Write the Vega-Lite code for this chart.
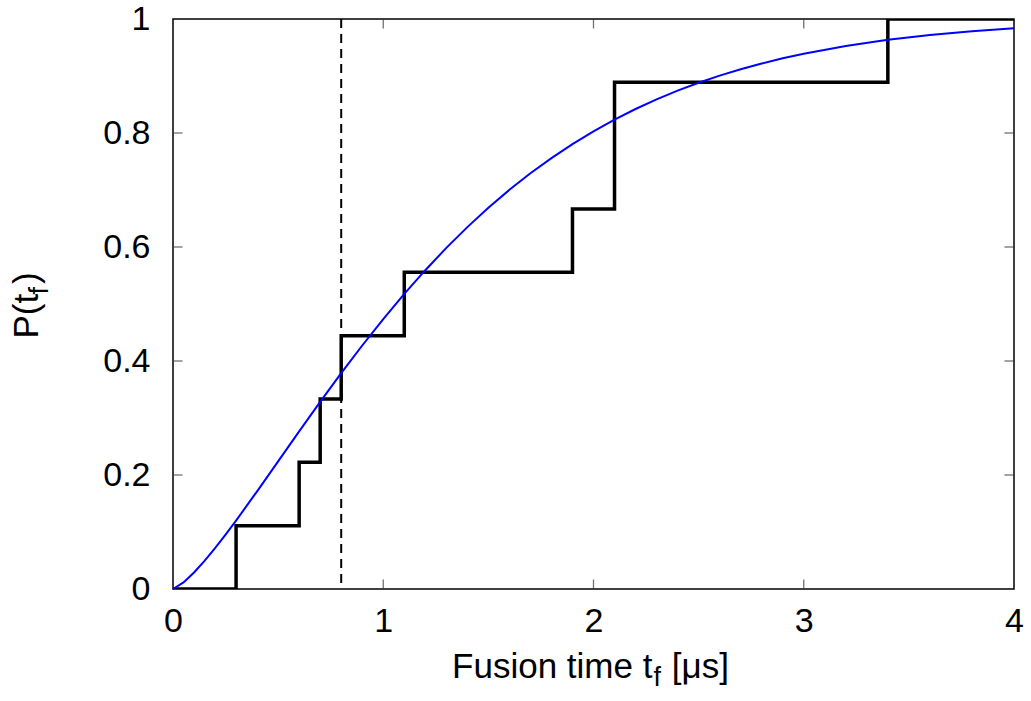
{
  "$schema": "https://vega.github.io/schema/vega-lite/v6.json",
  "width": 841,
  "height": 570,
  "autosize": {"type": "none"},
  "padding": {"left": 173, "top": 19, "right": 17, "bottom": 112},
  "background": "white",
  "config": {
    "view": {"stroke": "black", "strokeWidth": 1.5},
    "font": "Liberation Sans",
    "axis": {"grid": false, "domain": false, "labelFont": "Liberation Sans", "titleFont": "Liberation Sans", "labelColor": "black", "titleColor": "black", "titleFontWeight": "normal", "labelFlush": false}
  },
  "datasets": {
    "steps": [
      {"t": 0, "p": 0},
      {"t": 0.3, "p": 0.1111},
      {"t": 0.6, "p": 0.2222},
      {"t": 0.7, "p": 0.3333},
      {"t": 0.8, "p": 0.4444},
      {"t": 1.1, "p": 0.5556},
      {"t": 1.9, "p": 0.6667},
      {"t": 2.1, "p": 0.8889},
      {"t": 3.4, "p": 1},
      {"t": 4, "p": 1}
    ],
    "mark": [{"t": 0.8}],
    "xticks": [
      {"t": 1, "p": 0}, {"t": 2, "p": 0}, {"t": 3, "p": 0},
      {"t": 1, "p": 1}, {"t": 2, "p": 1}, {"t": 3, "p": 1}
    ],
    "yticks": [
      {"t": 0, "p": 0.2}, {"t": 0, "p": 0.4}, {"t": 0, "p": 0.6}, {"t": 0, "p": 0.8},
      {"t": 4, "p": 0.2}, {"t": 4, "p": 0.4}, {"t": 4, "p": 0.6}, {"t": 4, "p": 0.8}
    ],
    "fit": [
      {"t": 0, "p": 0},
      {"t": 0.05, "p": 0.0115},
      {"t": 0.1, "p": 0.0289},
      {"t": 0.15, "p": 0.0493},
      {"t": 0.2, "p": 0.0716},
      {"t": 0.25, "p": 0.0953},
      {"t": 0.3, "p": 0.12},
      {"t": 0.4, "p": 0.1714},
      {"t": 0.5, "p": 0.2239},
      {"t": 0.6, "p": 0.2765},
      {"t": 0.7, "p": 0.3283},
      {"t": 0.8, "p": 0.3787},
      {"t": 0.9, "p": 0.4272},
      {"t": 1.0, "p": 0.4736},
      {"t": 1.1, "p": 0.5177},
      {"t": 1.2, "p": 0.5593},
      {"t": 1.3, "p": 0.5984},
      {"t": 1.4, "p": 0.6349},
      {"t": 1.5, "p": 0.6688},
      {"t": 1.6, "p": 0.7003},
      {"t": 1.7, "p": 0.7293},
      {"t": 1.8, "p": 0.756},
      {"t": 1.9, "p": 0.7806},
      {"t": 2.0, "p": 0.803},
      {"t": 2.1, "p": 0.8235},
      {"t": 2.2, "p": 0.8421},
      {"t": 2.3, "p": 0.859},
      {"t": 2.4, "p": 0.8744},
      {"t": 2.5, "p": 0.8882},
      {"t": 2.6, "p": 0.9007},
      {"t": 2.7, "p": 0.9119},
      {"t": 2.8, "p": 0.9219},
      {"t": 2.9, "p": 0.931},
      {"t": 3.0, "p": 0.939},
      {"t": 3.2, "p": 0.9526},
      {"t": 3.4, "p": 0.9634},
      {"t": 3.6, "p": 0.9719},
      {"t": 3.8, "p": 0.9785},
      {"t": 4.0, "p": 0.9836}
    ]
  },
  "layer": [
    {
      "data": {"name": "xticks"},
      "mark": {"type": "tick", "orient": "vertical", "color": "#333333", "size": 19, "thickness": 1.3, "clip": true},
      "encoding": {
        "x": {"field": "t", "type": "quantitative", "scale": {"domain": [0, 4], "nice": false, "zero": false}, "axis": null},
        "y": {"field": "p", "type": "quantitative", "scale": {"domain": [0, 1], "nice": false}, "axis": null}
      }
    },
    {
      "data": {"name": "yticks"},
      "mark": {"type": "tick", "orient": "horizontal", "color": "#333333", "size": 19, "thickness": 1.3, "clip": true},
      "encoding": {
        "x": {"field": "t", "type": "quantitative", "axis": null},
        "y": {"field": "p", "type": "quantitative", "axis": null}
      }
    },
    {
      "data": {"name": "steps"},
      "mark": {"type": "line", "interpolate": "step-after", "color": "black", "strokeWidth": 3.5, "clip": true},
      "encoding": {
        "x": {"field": "t", "type": "quantitative", "axis": null},
        "y": {"field": "p", "type": "quantitative", "axis": null}
      }
    },
    {
      "data": {"name": "mark"},
      "mark": {"type": "rule", "color": "black", "strokeWidth": 2, "strokeDash": [9, 6]},
      "encoding": {
        "x": {"field": "t", "type": "quantitative",
              "axis": {"orient": "bottom", "labels": false, "ticks": false, "values": [0, 1, 2, 3, 4],
                       "title": "f", "titleFontSize": 27, "titleAlign": "left", "titleBaseline": "alphabetic", "titleX": 480, "titleY": 96, "titleAngle": 0}}
      }
    },
    {
      "data": {"name": "mark"},
      "mark": {"type": "rule", "opacity": 0},
      "encoding": {
        "y": {"datum": 0.5, "type": "quantitative",
              "axis": {"orient": "left", "labels": false, "ticks": false, "values": [0, 0.2, 0.4, 0.6, 0.8, 1],
                       "title": "f", "titleFontSize": 27, "titleAlign": "left", "titleBaseline": "alphabetic", "titleX": -126, "titleY": 275, "titleAngle": -90}}
      }
    },
    {
      "data": {"name": "fit"},
      "mark": {"type": "line", "color": "#0000ff", "strokeWidth": 2},
      "encoding": {
        "x": {"field": "t", "type": "quantitative",
              "axis": {"orient": "bottom", "ticks": false, "labelPadding": 15, "labelFontSize": 34, "values": [0, 1, 2, 3, 4], "format": "d",
                       "title": "Fusion time t\u00a0\u00a0[μs]", "titleFontSize": 35, "titleAlign": "center", "titleBaseline": "alphabetic", "titleX": 417, "titleY": 88}},
        "y": {"field": "p", "type": "quantitative",
              "axis": {"orient": "left", "ticks": false, "labelPadding": 23, "labelFontSize": 34, "values": [0, 0.2, 0.4, 0.6, 0.8, 1], "format": ".1~f",
                       "title": "P(t\u00a0)", "titleFontSize": 35, "titleAlign": "center", "titleBaseline": "alphabetic", "titleX": -136, "titleY": 286, "titleAngle": -90}}
      }
    }
  ],
  "resolve": {"axis": {"x": "independent", "y": "independent"}}
}
